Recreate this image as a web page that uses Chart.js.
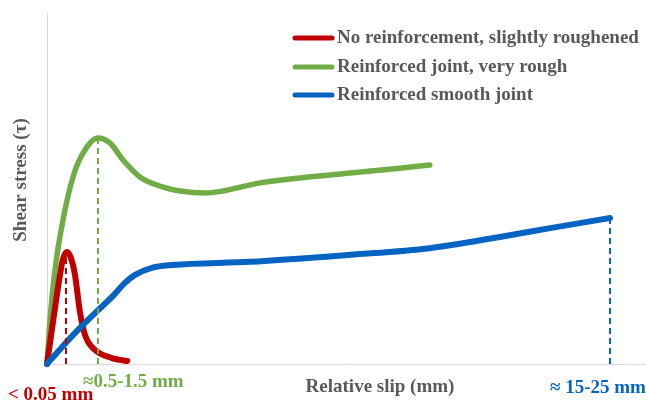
<!DOCTYPE html>
<html><head><meta charset="utf-8">
<script src="https://cdn.jsdelivr.net/npm/chart.js@4"></script>
<style>html,body{margin:0;padding:0;background:#fff}#wrap{width:646px;height:401px}</style>
</head><body><div id="wrap"><canvas id="c" width="646" height="401"></canvas></div>
<script>
// Series names (legend)
const seriesNames = ["No reinforcement, slightly roughened", "Reinforced joint, very rough", "Reinforced smooth joint"];
// Relative slip (arbitrary units, 0-100) and shear stress (arbitrary units, 0-100)
const redX   = [0, 1.17, 2.17, 2.67, 3.34, 4.0, 4.67, 5.5, 6.34, 8.01, 10.85, 13.4];
const redY   = [0, 14.0, 25.4, 29.9, 31.9, 30.2, 25.4, 14.8, 8.3, 4.0, 1.7, 0.85];
const greenX = [0, 0.5, 1.34, 2.67, 4.34, 6.01, 8.51, 10.5, 12.7, 15.5, 19.4, 22.2, 26.4, 35.6, 42.2, 50.6, 58.9, 63.9];
const greenY = [0, 12.5, 26.8, 41.0, 53.3, 60.1, 64.4, 63.0, 58.1, 53.3, 50.4, 49.3, 48.7, 51.6, 53.0, 54.4, 55.8, 56.7];
const blueX  = [0, 2.5, 5.18, 8.01, 10.85, 13.0, 14.7, 17.5, 20.9, 33.9, 50.6, 63.9, 75.6, 84.0, 94.0];
const blueY  = [0, 4.8, 9.7, 14.5, 19.1, 23.1, 25.4, 27.4, 28.2, 29.1, 31.1, 33.0, 36.2, 38.7, 41.6];
// Characteristic slip markers (dashed drop lines): x, y-top
const markerX = [3.17, 8.51, 94.0];
const markerY = [31.8, 64.4, 41.6];
// Annotation labels
const markerLabels = ["< 0.05 mm", "\u22480.5-1.5 mm", "\u2248 15-25 mm"];
const xTitle = "Relative slip (mm)";
const yTitle = "Shear stress (\u03c4)";

const colors = ["#C00000", "#70AD47", "#0563C1"];
const pts = (xs, ys) => xs.map((x, i) => ({x, y: ys[i]}));

const curveOrders = [2, 3, 1];
const curveWidths = [6, 5.5, 6];
const datasets = [pts(redX, redY), pts(greenX, greenY), pts(blueX, blueY)].map((d, i) => ({
  label: seriesNames[i], data: d, borderColor: colors[i], borderWidth: curveWidths[i],
  pointRadius: 0, cubicInterpolationMode: 'monotone', borderCapStyle: 'round',
  borderJoinStyle: 'round', fill: false, clip: false, order: curveOrders[i]
}));
markerX.forEach((x, i) => datasets.push({
  label: '_m' + i, data: [{x, y: 0}, {x, y: markerY[i]}], borderColor: colors[i],
  borderWidth: 2, borderDash: [6, 4], pointRadius: 0, fill: false, clip: false, order: 0
}));

const serif = '"Liberation Serif", "Times New Roman", serif';
const deco = {
  id: 'deco',
  beforeDatasetsDraw(chart) {
    const {ctx, chartArea: a} = chart;
    ctx.save();
    ctx.strokeStyle = '#d9d9d9'; ctx.lineWidth = 1;
    ctx.beginPath();
    ctx.moveTo(a.left + 0.5, a.top); ctx.lineTo(a.left + 0.5, a.bottom + 0.5);
    ctx.lineTo(a.right, a.bottom + 0.5);
    ctx.stroke();
    ctx.restore();
  },
  afterDraw(chart) {
    const {ctx} = chart;
    ctx.save();
    ctx.font = 'bold 19px ' + serif;
    ctx.textBaseline = 'middle';
    // legend
    const rows = [38, 67, 95];
    seriesNames.forEach((n, i) => {
      ctx.strokeStyle = colors[i]; ctx.lineWidth = 5; ctx.lineCap = 'round';
      ctx.beginPath(); ctx.moveTo(295, rows[i]); ctx.lineTo(332, rows[i]); ctx.stroke();
      ctx.fillStyle = '#595959'; ctx.textAlign = 'left';
      ctx.fillText(n, 337, rows[i]);
    });
    // axis titles
    ctx.textAlign = 'center';
    ctx.fillStyle = '#595959';
    ctx.fillText(xTitle, 380, 387);
    ctx.save();
    ctx.translate(21, 180); ctx.rotate(-Math.PI / 2);
    ctx.fillText(yTitle, 0, 0);
    ctx.restore();
    // marker labels
    ctx.textBaseline = 'alphabetic';
    ctx.textAlign = 'left';
    ctx.fillStyle = colors[0]; ctx.fillText(markerLabels[0], 8, 400);
    ctx.fillStyle = colors[1]; ctx.fillText(markerLabels[1], 83, 387);
    ctx.fillStyle = colors[2]; ctx.fillText(markerLabels[2], 550, 393);
    ctx.restore();
  }
};

new Chart(document.getElementById('c'), {
  type: 'line',
  data: {datasets},
  options: {
    responsive: false, animation: false, devicePixelRatio: 1,
    layout: {padding: {left: 47, top: 13, right: 0, bottom: 37}},
    plugins: {legend: {display: false}, tooltip: {enabled: false}},
    scales: {
      x: {type: 'linear', min: 0, max: 100, display: false},
      y: {type: 'linear', min: 0, max: 100, display: false}
    }
  },
  plugins: [deco]
});
</script>
</body></html>
